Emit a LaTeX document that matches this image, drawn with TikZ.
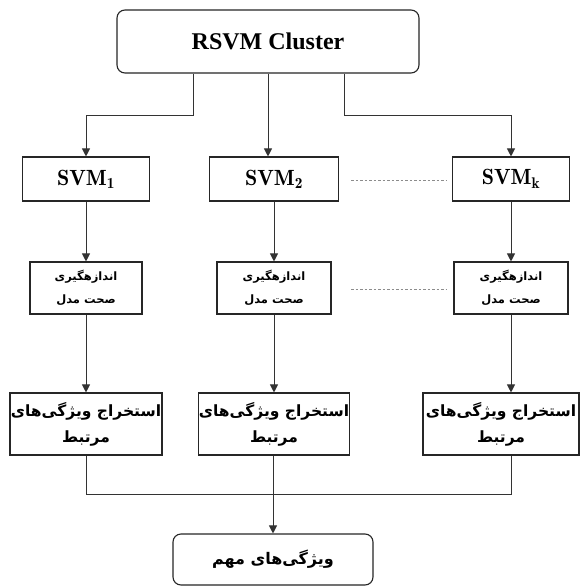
\documentclass[tikz,border=0pt]{standalone}
\usepackage{fontspec}
\usetikzlibrary{arrows.meta}
\TeXXeTstate=1
\newfontfamily\arabicfont[Script=Arabic]{DejaVu Sans}
\newfontfamily\titlefont{Liberation Serif}
\tikzset{
  box/.style={draw=black!85, line width=1.1pt, fill=white, inner sep=0pt},
  rbox/.style={box, rounded corners=8pt},
  conn/.style={draw=black!80, line width=1pt},
  arr/.style={conn, -{Triangle[length=8pt,width=8pt]}},
  dots/.style={draw=black!45, line width=0.9pt, dash pattern=on 2.5pt off 2pt},
  svmtxt/.style={font=\fontsize{22}{26}\selectfont},
  fa/.style={font=\arabicfont\bfseries\fontsize{11.5}{23}\selectfont, align=center},
  fb/.style={font=\arabicfont\bfseries\fontsize{15.5}{26}\selectfont, align=center},
}
\begin{document}
\begin{tikzpicture}[x=1pt,y=-1pt]
\useasboundingbox (0,0) rectangle (579,586);
% top
\node[rbox, minimum width=302, minimum height=63] (top) at (268,41.5)
  {\titlefont\bfseries\fontsize{24}{28}\selectfont RSVM Cluster};
% SVM row
\node[box, svmtxt, minimum width=127, minimum height=44] (s1) at (86,179) {$\mathbf{SVM}_{\mathbf{1}}$};
\node[box, svmtxt, minimum width=129, minimum height=44] (s2) at (274,179) {$\mathbf{SVM}_{\mathbf{2}}$};
\node[box, svmtxt, minimum width=117, minimum height=44] (sk) at (511,179) {$\mathbf{SVM}_{\mathbf{k}}$};
% accuracy row
\node[box, fa, minimum width=112, minimum height=52] (a1) at (86,288) {\beginR اندازهگیری\endR\\\beginR صحت مدل\endR};
\node[box, fa, minimum width=114, minimum height=52] (a2) at (274,288) {\beginR اندازهگیری\endR\\\beginR صحت مدل\endR};
\node[box, fa, minimum width=114, minimum height=52] (ak) at (511,288) {\beginR اندازهگیری\endR\\\beginR صحت مدل\endR};
% extraction row
\node[box, fb, minimum width=152, minimum height=62] (e1) at (86,424) {\beginR استخراج ویژگی‌های\endR\\\beginR مرتبط\endR};
\node[box, fb, minimum width=150, minimum height=62] (e2) at (274,424) {\beginR استخراج ویژگی‌های\endR\\\beginR مرتبط\endR};
\node[box, fb, minimum width=156, minimum height=62] (ek) at (501,424) {\beginR استخراج ویژگی‌های\endR\\\beginR مرتبط\endR};
% bottom
\node[rbox, minimum width=200, minimum height=51] (bot) at (273,559.5)
  {\arabicfont\bfseries\fontsize{16}{20}\selectfont\beginR ویژگی‌های مهم\endR};
% connectors from top
\coordinate (tl) at (193,115);
\coordinate (tr) at (344,115);
\draw[arr] (top.south -| tl) -- (tl) -| (s1.north);
\draw[arr] (top.south -| 268,0) -- (s2.north -| 268,0);
\draw[arr] (top.south -| tr) -- (tr) -| (sk.north);
% SVM -> accuracy
\draw[arr] (s1.south) -- (a1.north);
\draw[arr] (s2.south) -- (a2.north);
\draw[arr] (sk.south) -- (ak.north);
% accuracy -> extraction
\draw[arr] (a1.south) -- (e1.north);
\draw[arr] (a2.south) -- (e2.north);
\draw[arr] (ak.south) -- (ak.south |- ek.north);
% merge
\coordinate (ml) at (86,494);
\draw[conn] (e1.south) -- (ml) -- (ml -| ak.south) -- (ak.south |- ek.south);
\draw[arr] (e2.south -| 273,0) -- (bot.north);
% dotted
\draw[dots] (351,180) -- (446,180);
\draw[dots] (351,289) -- (446,289);
\end{tikzpicture}
\end{document}
